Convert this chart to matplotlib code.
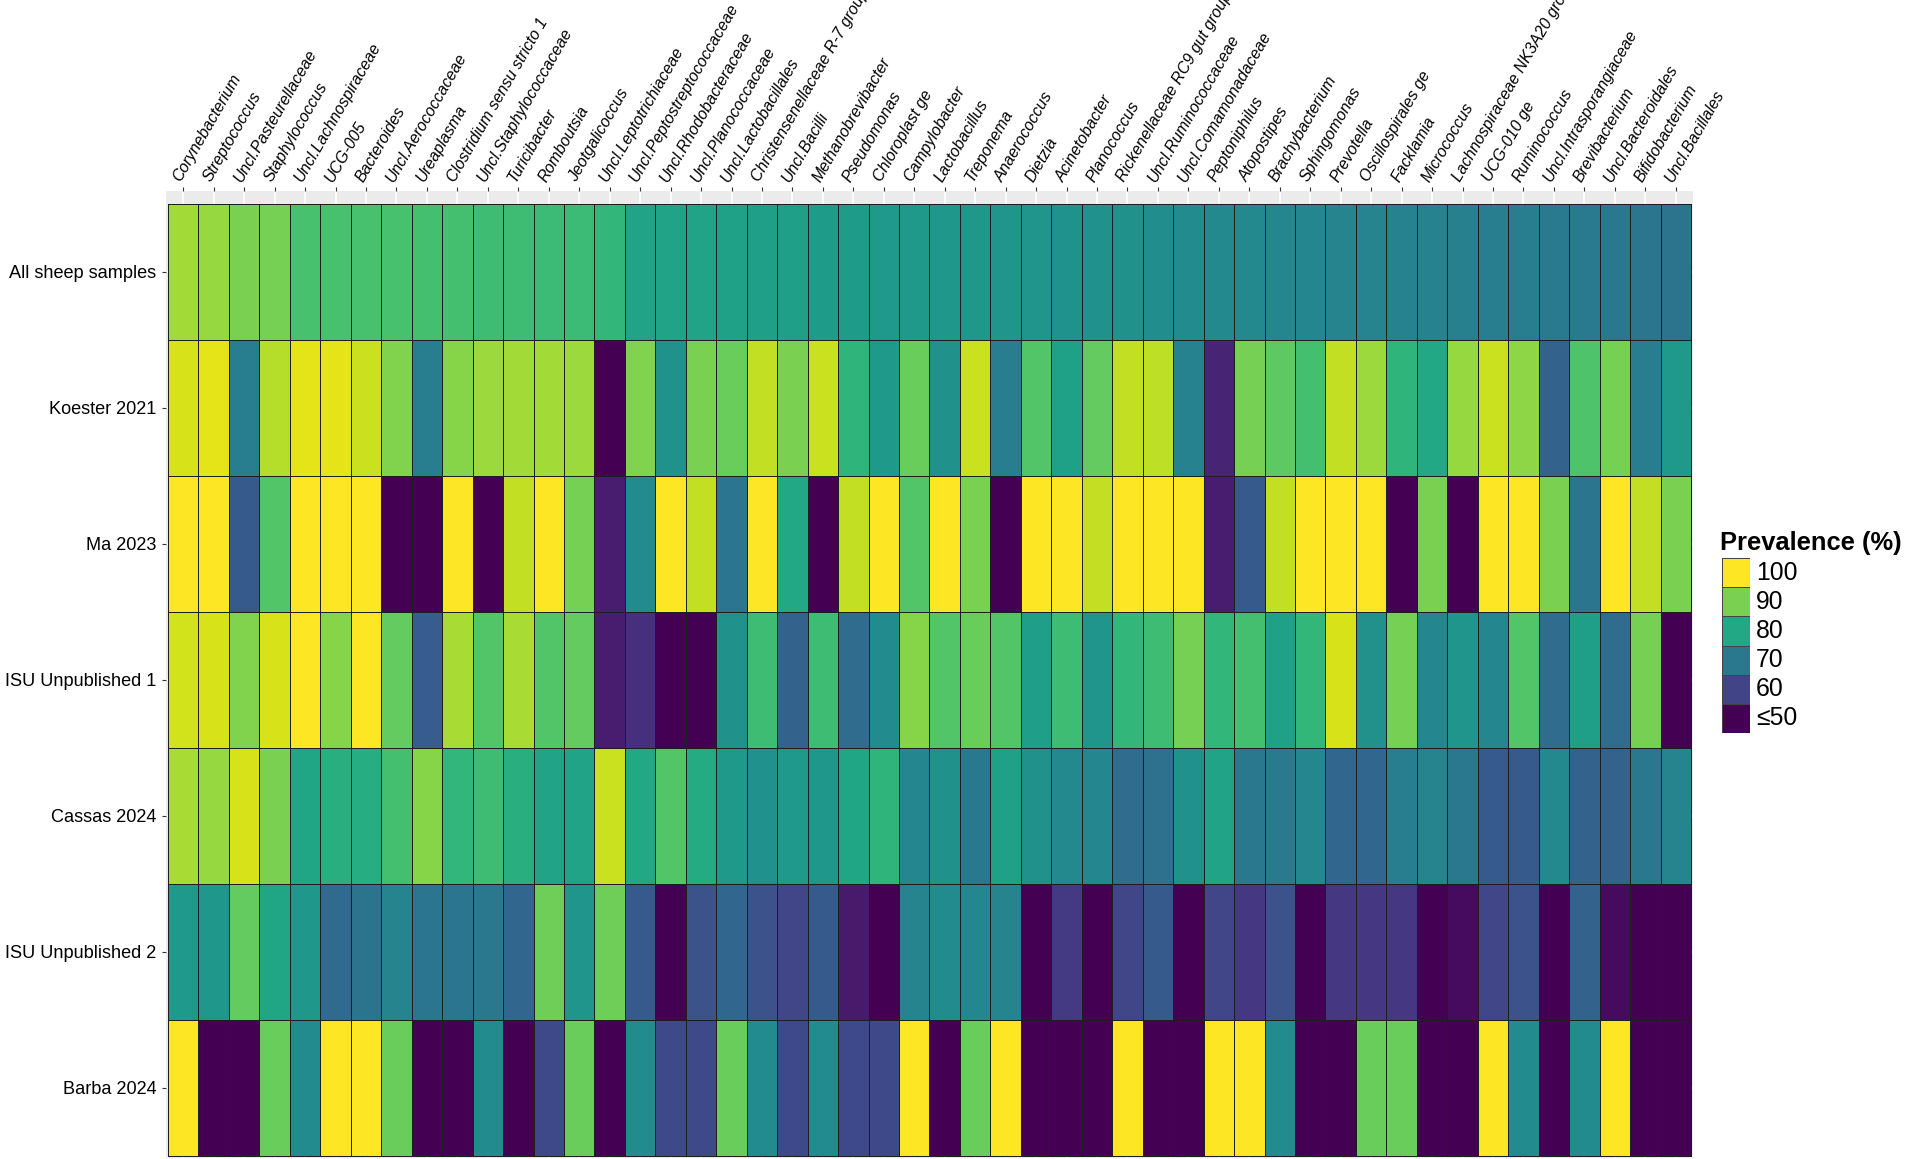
import matplotlib
matplotlib.use('Agg')
import matplotlib.pyplot as plt
import numpy as np
from matplotlib.colors import Normalize

plt.rcParams['font.family'] = ['Liberation Sans', 'DejaVu Sans']

studies = ['All sheep samples', 'Koester 2021', 'Ma 2023', 'ISU Unpublished 1',
           'Cassas 2024', 'ISU Unpublished 2', 'Barba 2024']

taxa = ['Corynebacterium', 'Streptococcus', 'Uncl.Pasteurellaceae', 'Staphylococcus',
        'Uncl.Lachnospiraceae', 'UCG-005', 'Bacteroides', 'Uncl.Aerococcaceae',
        'Ureaplasma', 'Clostridium sensu stricto 1', 'Uncl.Staphylococcaceae',
        'Turicibacter', 'Romboutsia', 'Jeotgalicoccus', 'Uncl.Leptotrichiaceae',
        'Uncl.Peptostreptococcaceae', 'Uncl.Rhodobacteraceae', 'Uncl.Planococcaceae',
        'Uncl.Lactobacillales', 'Christensenellaceae R-7 group', 'Uncl.Bacilli',
        'Methanobrevibacter', 'Pseudomonas', 'Chloroplast ge', 'Campylobacter',
        'Lactobacillus', 'Treponema', 'Anaerococcus', 'Dietzia', 'Acinetobacter',
        'Planococcus', 'Rickenellaceae RC9 gut group', 'Uncl.Ruminococcaceae',
        'Uncl.Comamonadaceae', 'Peptoniphilus', 'Atopostipes', 'Brachybacterium',
        'Sphingomonas', 'Prevotella', 'Oscillospirales ge', 'Facklamia', 'Micrococcus',
        'Lachnospiraceae NK3A20 group', 'UCG-010 ge', 'Ruminococcus',
        'Uncl.Intrasporangiaceae', 'Brevibacterium', 'Uncl.Bacteroidales',
        'Bifidobacterium', 'Uncl.Bacillales']

# prevalence (%) per study, values <= 50 shown with the lowest colour
all_sheep = [93, 92, 90, 89.5, 85.5, 85.5, 85.5, 85.5, 85, 85,
             84.5, 84.5, 84, 84, 83, 79, 79, 79, 78.5, 78,
             78, 77.5, 77.5, 77, 77, 76.5, 76.5, 76, 76, 75.5,
             75, 75, 74.5, 74, 73.5, 73.5, 73, 73, 72.5, 72.5,
             72, 72, 71.5, 71, 71, 70.5, 70.5, 70, 69.5, 69]
koester = [97, 98, 71, 94.5, 98, 98, 96, 90.5, 71, 91,
           92.5, 93, 93, 92.5, 50, 90.5, 75, 90, 88.5, 95.5,
           90, 96, 82.5, 77, 88.5, 75, 96, 71, 86.5, 78.5,
           88, 95.5, 95, 72, 55, 89.5, 87.5, 85, 95.5, 92.5,
           82.5, 80, 92, 96, 91.5, 65.5, 86, 89.5, 71, 77]
ma = [100, 100, 64, 86.5, 100, 100, 100, 50, 50, 100,
      50, 95.5, 100, 89.5, 54, 74, 100, 95.5, 69.5, 100,
      80, 50, 95.5, 100, 86.5, 100, 90, 50, 100, 100,
      95.5, 100, 100, 100, 54, 64, 95.5, 100, 100, 100,
      50, 90, 50, 100, 100, 90, 69.5, 100, 95.5, 90]
isu1 = [96.5, 97, 90.5, 97, 100, 91, 100, 88, 64.5, 93.5,
        86.5, 93.5, 86.5, 88, 54, 57, 50, 50, 75, 84.5,
        65.5, 84.5, 67.5, 74, 91, 86.5, 88.5, 86.5, 78, 84.5,
        76, 83, 84.5, 89.5, 83, 85, 78.5, 83, 97, 75,
        89.5, 73, 76, 73, 86.5, 67.5, 78, 67.5, 89.5, 50]
cassas = [93.5, 92, 97, 90, 79.5, 81.5, 81, 85, 91, 83,
          84.5, 81.5, 79, 79, 96, 80, 86.5, 80.5, 77, 75,
          77, 76.5, 79.5, 82.5, 73, 75, 70, 78.5, 75, 73.5,
          73, 67.5, 68.5, 75, 79, 70, 70.5, 73, 66.5, 66.5,
          71, 72.5, 70, 64, 64, 73.5, 65.5, 65.5, 70, 72.5]
isu2 = [77, 76.5, 88, 79.5, 76.5, 67, 69, 72.5, 69.5, 69.5,
        70, 66.5, 89, 76, 89, 64, 50, 62.5, 66.5, 62.5,
        60.5, 64, 53.5, 50, 72.5, 74, 73, 72.5, 50, 58.5,
        50, 60.5, 64, 50, 60.5, 58, 62.5, 50, 58, 58,
        58, 50, 51.5, 60.5, 62.5, 50, 65.5, 51.5, 50, 50]
barba = [100, 50, 50, 88.5, 74, 100, 100, 88.5, 50, 50,
         74, 50, 61, 88.5, 50, 74, 61, 61, 88.5, 74,
         61, 74, 61, 61, 100, 50, 88.5, 100, 50, 50,
         50, 100, 50, 50, 100, 100, 74, 50, 50, 88.5,
         88.5, 50, 50, 100, 74, 50, 74, 100, 50, 50]

legend_values = [100, 90, 80, 70, 60, 50]
legend_labels = ['100', '90', '80', '70', '60', '≤50']

data = np.array([all_sheep, koester, ma, isu1, cassas, isu2, barba])
norm = Normalize(vmin=50, vmax=100)
cmap = plt.get_cmap('viridis')

W, H = 1905, 1159
fig = plt.figure(figsize=(W / 100, H / 100), dpi=100)

# panel in pixels: x 166-1693, y 191-1158 (from top)
ax = fig.add_axes([166 / W, 1 / H, (1693 - 166) / W, (1158 - 191) / H])
ax.set_facecolor('#EBEBEB')
ax.set_axisbelow(True)
ax.grid(True, color='white', linewidth=1.1)

ax.pcolormesh(np.arange(len(taxa) + 1), np.arange(len(studies) + 1), data,
              cmap=cmap, norm=norm, edgecolors='#1e1e1e', linewidth=0.6, zorder=2)

col_px = (1691 - 168) / len(taxa)
row_px = (1156 - 204) / len(studies)
ax.set_xlim(-2 / col_px, len(taxa) + 2 / col_px)
ax.set_ylim(len(studies) + 2 / row_px, -13 / row_px)

for s in ax.spines.values():
    s.set_visible(False)

ax.xaxis.tick_top()
ax.set_xticks(np.arange(len(taxa)) + 0.5)
ax.set_xticklabels(taxa, rotation=60, ha='left', va='bottom', rotation_mode='anchor',
                   fontstyle='italic', fontsize=11.4, color='black')
ax.set_yticks(np.arange(len(studies)) + 0.5)
ax.set_yticklabels(studies, fontsize=13.1, color='black')
ax.tick_params(axis='x', length=3, width=0.8, color='#333333', pad=2)
ax.tick_params(axis='y', length=3, width=0.8, color='#333333', pad=4)

# legend
cax = fig.add_axes([1722 / W, 1 - 733 / H, 28 / W, 175 / H])
cax.pcolormesh([0, 1], np.arange(len(legend_values) + 1),
               np.array(legend_values).reshape(-1, 1),
               cmap=cmap, norm=norm, edgecolors='#444444', linewidth=0.6)
cax.set_xlim(0, 1)
cax.set_ylim(len(legend_values), 0)
cax.axis('off')
for i, lab in enumerate(legend_labels):
    cax.text(34 / 28, i + 0.5, lab, transform=cax.get_yaxis_transform(),
             fontsize=17.8, va='center', ha='left')
fig.text(1720 / W, 1 - 543 / H, 'Prevalence (%)', fontsize=18.4, fontweight='bold',
         ha='left', va='center')

fig.savefig('out.png', dpi=100)
